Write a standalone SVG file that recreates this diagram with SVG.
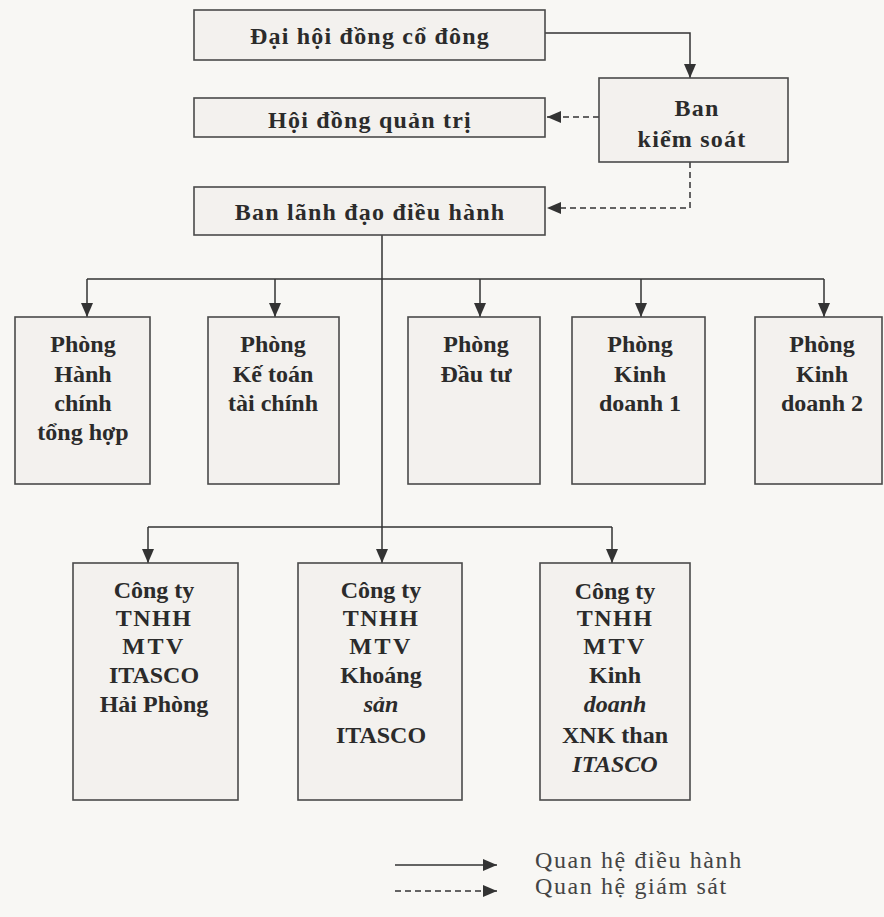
<svg xmlns="http://www.w3.org/2000/svg" width="884" height="917" viewBox="0 0 884 917">
<style>
.bg{fill:#f8f7f4}
.box{fill:#f3f1ee;stroke:#4a4a4a;stroke-width:1.6}
.t{font-family:"Liberation Serif","Times New Roman",serif;font-size:24px;font-weight:bold;fill:#2b2b2b;text-anchor:middle}
.big{font-size:24px;letter-spacing:1.2px}
.i{font-style:italic}
.ln{fill:none;stroke:#333;stroke-width:1.5}
.ds{stroke-dasharray:6 4}
.lg{font-family:"Liberation Serif","Times New Roman",serif;font-size:24px;fill:#444}
</style>
<defs>
<marker id="ah" viewBox="0 0 14 12" refX="14" refY="6" markerWidth="14" markerHeight="12" markerUnits="userSpaceOnUse" orient="auto">
<path d="M0,0 L14,6 L0,12 z" fill="#333"/>
</marker>
</defs>
<rect class="bg" x="0" y="0" width="884" height="917"/>

<g id="connectors">
<path class="ln" d="M545,33 H690 V78" marker-end="url(#ah)"/>
<path class="ln ds" d="M599,117 H547" marker-end="url(#ah)"/>
<path class="ln ds" d="M690,162 V208 H547" marker-end="url(#ah)"/>
<path class="ln" d="M382,235 V563" marker-end="url(#ah)"/>
<path class="ln" d="M87,279 H824"/>
<path class="ln" d="M87,279 V317" marker-end="url(#ah)"/>
<path class="ln" d="M275,279 V317" marker-end="url(#ah)"/>
<path class="ln" d="M480,279 V317" marker-end="url(#ah)"/>
<path class="ln" d="M641,279 V317" marker-end="url(#ah)"/>
<path class="ln" d="M824,279 V317" marker-end="url(#ah)"/>
<path class="ln" d="M148,527 H612"/>
<path class="ln" d="M148,527 V563" marker-end="url(#ah)"/>
<path class="ln" d="M612,527 V563" marker-end="url(#ah)"/>
</g>

<g id="dai-hoi-dong-co-dong">
<rect class="box" x="194" y="10" width="351" height="50"/>
<text class="t big" x="370" y="44">Đại hội đồng cổ đông</text>
</g>
<g id="hoi-dong-quan-tri">
<rect class="box" x="194" y="98" width="351" height="39"/>
<text class="t big" x="370" y="128">Hội đồng quản trị</text>
</g>
<g id="ban-lanh-dao">
<rect class="box" x="194" y="187" width="351" height="48"/>
<text class="t big" x="370" y="220">Ban lãnh đạo điều hành</text>
</g>
<g id="ban-kiem-soat">
<rect class="box" x="599" y="78" width="189" height="84"/>
<text class="t big" x="697" y="116">Ban</text>
<text class="t big" x="692" y="147">kiểm soát</text>
</g>

<g id="phong-hanh-chinh">
<rect class="box" x="15" y="317" width="135" height="167"/>
<text class="t" x="83" y="352">Phòng</text>
<text class="t" x="83" y="382">Hành</text>
<text class="t" x="83" y="411">chính</text>
<text class="t" x="83" y="440">tổng hợp</text>
</g>
<g id="phong-ke-toan">
<rect class="box" x="208" y="317" width="131" height="167"/>
<text class="t" x="273" y="352">Phòng</text>
<text class="t" x="273" y="382">Kế toán</text>
<text class="t" x="273" y="411">tài chính</text>
</g>
<g id="phong-dau-tu">
<rect class="box" x="408" y="317" width="132" height="167"/>
<text class="t" x="476" y="352">Phòng</text>
<text class="t" x="476" y="382">Đầu tư</text>
</g>
<g id="phong-kinh-doanh-1">
<rect class="box" x="572" y="317" width="133" height="167"/>
<text class="t" x="640" y="352">Phòng</text>
<text class="t" x="640" y="382">Kinh</text>
<text class="t" x="640" y="411">doanh 1</text>
</g>
<g id="phong-kinh-doanh-2">
<rect class="box" x="755" y="317" width="127" height="167"/>
<text class="t" x="822" y="352">Phòng</text>
<text class="t" x="822" y="382">Kinh</text>
<text class="t" x="822" y="411">doanh 2</text>
</g>

<g id="cong-ty-hai-phong">
<rect class="box" x="73" y="563" width="165" height="237"/>
<text class="t" x="154" y="598">Công ty</text>
<text class="t" x="154" y="626" letter-spacing="1.5">TNHH</text>
<text class="t" x="154" y="654" letter-spacing="2.5">MTV</text>
<text class="t" x="154" y="683">ITASCO</text>
<text class="t" x="154" y="712">Hải Phòng</text>
</g>
<g id="cong-ty-khoang-san">
<rect class="box" x="298" y="563" width="164" height="237"/>
<text class="t" x="381" y="598">Công ty</text>
<text class="t" x="381" y="626" letter-spacing="1.5">TNHH</text>
<text class="t" x="381" y="654" letter-spacing="2.5">MTV</text>
<text class="t" x="381" y="683">Khoáng</text>
<text class="t i" x="381" y="712">sản</text>
<text class="t" x="381" y="743">ITASCO</text>
</g>
<g id="cong-ty-xnk-than">
<rect class="box" x="540" y="563" width="150" height="237"/>
<text class="t" x="615" y="599">Công ty</text>
<text class="t" x="615" y="626" letter-spacing="1.5">TNHH</text>
<text class="t" x="615" y="654" letter-spacing="2.5">MTV</text>
<text class="t" x="615" y="683">Kinh</text>
<text class="t i" x="615" y="712">doanh</text>
<text class="t" x="615" y="743">XNK than</text>
<text class="t i" x="615" y="772">ITASCO</text>
</g>

<g id="legend">
<path class="ln" d="M395,865 H497" marker-end="url(#ah)"/>
<path class="ln ds" d="M395,891 H497" marker-end="url(#ah)"/>
<text class="lg" x="535" y="868" letter-spacing="1.6">Quan hệ điều hành</text>
<text class="lg" x="535" y="894" letter-spacing="1.6">Quan hệ giám sát</text>
</g>
</svg>
